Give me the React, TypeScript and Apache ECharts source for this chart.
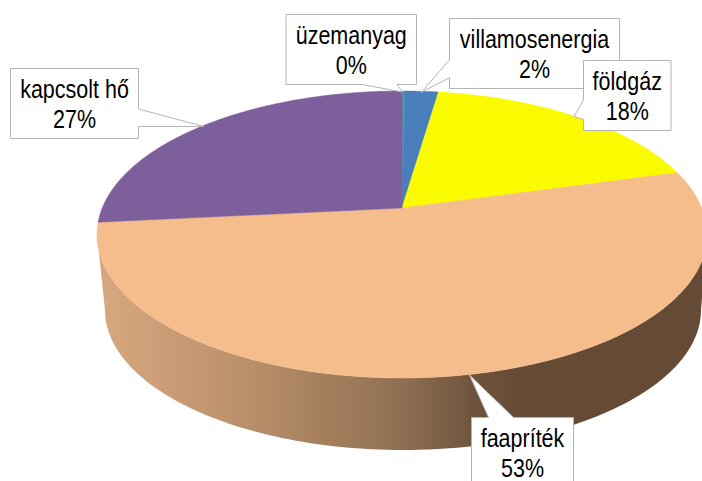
import React, { useEffect, useRef } from "react";
import * as echarts from "echarts";

const categories = ["üzemanyag", "villamosenergia", "földgáz", "faapríték", "kapcsolt hő"];
const values = [0.2, 2.1, 18.4, 52.7, 26.6];
const colors = ["#4F94B0", "#4A7EBB", "#FAFA00", "#F5BC8C", "#7D5F9B"];
const wallStops = [
  { offset: 0, color: "#D8A980" },
  { offset: 0.25, color: "#B98F6A" },
  { offset: 0.5, color: "#8F6F52" },
  { offset: 0.62, color: "#6E533C" },
  { offset: 0.7, color: "#654B36" },
  { offset: 1, color: "#654B36" },
];

const TOP = { cx: 402, cy: 234.5, rx: 305, ry: 143.5, t: -0.1847 };
const BOTTOM = { cx: 403, cy: 310, rx: 298, ry: 140 };
const callouts = [
  { box: [286, 14.5, 130.5, 70], tip: [[362, 84.5], [402.5, 92], [397, 84.5]], side: "bottom" },
  { box: [449.5, 18.5, 170, 70], tip: [[449.5, 60], [421, 92.5], [449.5, 77.5]], side: "left" },
  { box: [583.5, 60.5, 87.5, 70], tip: [[583.5, 100], [574, 116.5], [583.5, 119.5]], side: "left" },
  { box: [471.5, 417.5, 102, 70], tip: [[488.5, 417.5], [469.5, 375], [513.5, 417.5]], side: "top" },
  { box: [10.5, 68.5, 128, 70], tip: [[138.5, 109], [204, 126.5], [138.5, 126.5]], side: "right" },
];

function rimPoint(theta: number): number[] {
  const u = Math.sin(theta);
  const v = -Math.cos(theta);
  const d = 1 + TOP.t * v;
  const s = Math.sqrt(1 - TOP.t * TOP.t);
  return [TOP.cx + (TOP.rx * u * s) / d, TOP.cy + (TOP.ry * (v + TOP.t)) / d];
}

function ellipseArc(e: { cx: number; cy: number; rx: number; ry: number }, from: number, to: number) {
  const pts: number[][] = [];
  const n = 120;
  for (let i = 0; i <= n; i++) {
    const a = from + ((to - from) * i) / n;
    pts.push([e.cx + e.rx * Math.cos(a), e.cy + e.ry * Math.sin(a)]);
  }
  return pts;
}

const total = values.reduce((a, b) => a + b, 0);

function renderItem(params: any, api: any) {
  const i = params.dataIndex;
  let before = 0;
  for (let k = 0; k < i; k++) before += values[k];
  const value = api.value(0);
  const a0 = (before / total) * Math.PI * 2;
  const a1 = ((before + value) / total) * Math.PI * 2;
  const apex = [TOP.cx, TOP.cy + TOP.ry * TOP.t];
  const pts: number[][] = [apex];
  const n = Math.max(4, Math.ceil(((a1 - a0) / (Math.PI * 2)) * 360));
  for (let s = 0; s <= n; s++) pts.push(rimPoint(a0 + ((a1 - a0) * s) / n));
  const children: any[] = [];
  // The wall is visible only under the slice that spans the front of the pie.
  if (a0 < Math.PI / 2 && a1 > Math.PI * 1.5 - 0.2) {
    const wall = [...ellipseArc(BOTTOM, Math.PI, 0), ...ellipseArc(TOP, 0, Math.PI)];
    children.push({
      type: "polygon",
      shape: { points: wall },
      style: {
        fill: { type: "linear", x: 97, y: 0, x2: 707, y2: 0, global: true, colorStops: wallStops },
      },
    });
  }
  children.push({
    type: "polygon",
    shape: { points: pts },
    style: { fill: colors[i], stroke: colors[i], lineWidth: 0.5 },
  });
  return { type: "group", children };
}

function calloutGraphics() {
  const out: any[] = [];
  callouts.forEach((c, i) => {
    const [x, y, w, h] = c.box;
    const [p, q, r] = c.tip;
    let pts: number[][];
    if (c.side === "bottom") pts = [[x, y], [x + w, y], [x + w, y + h], r, q, p, [x, y + h]];
    else if (c.side === "left") pts = [[x, y], [x + w, y], [x + w, y + h], [x, y + h], r, q, p];
    else if (c.side === "top") pts = [[x, y], p, q, r, [x + w, y], [x + w, y + h], [x, y + h]];
    else pts = [[x, y], [x + w, y], p, q, r, [x + w, y + h], [x, y + h]];
    out.push({
      type: "polygon",
      z: 10 + i,
      silent: true,
      shape: { points: pts },
      style: { fill: "#FFFFFF", stroke: "#B4B4B4", lineWidth: 1 },
    });
    out.push({
      type: "text",
      z: 10 + i,
      silent: true,
      x: x + w / 2,
      y: y + h / 2 + 1,
      scaleX: 0.86,
      style: {
        text: `${categories[i]}\n${Math.round(values[i])}%`,
        fill: "#000000",
        font: '25px "Liberation Sans", Arial, sans-serif',
        lineHeight: 30,
        align: "center",
        verticalAlign: "middle",
      },
    });
  });
  return out;
}

export default function App() {
  const ref = useRef<HTMLDivElement>(null);
  useEffect(() => {
    document.body.style.margin = "0";
    const chart = echarts.init(ref.current!, undefined, { renderer: "svg" });
    chart.setOption({
      animation: false,
      backgroundColor: "#FFFFFF",
      series: [
        {
          type: "custom",
          coordinateSystem: "none",
          silent: true,
          renderItem,
          data: values.map((value, i) => ({ name: categories[i], value: [value] })),
        },
      ],
      graphic: { elements: calloutGraphics() },
    });
    return () => chart.dispose();
  }, []);
  return <div ref={ref} style={{ width: 702, height: 481, overflow: "hidden" }} />;
}
